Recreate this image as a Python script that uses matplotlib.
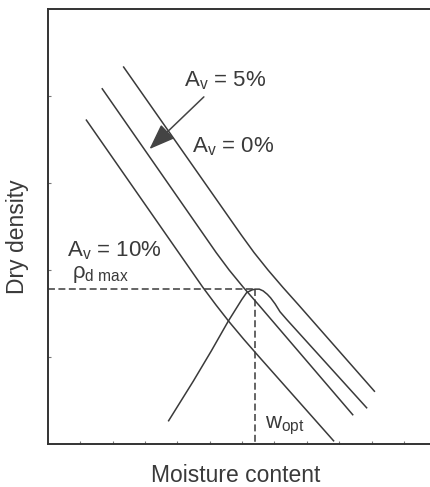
import matplotlib
matplotlib.use("Agg")
import matplotlib.pyplot as plt

plt.rcParams['font.family'] = ['Liberation Sans', 'DejaVu Sans']
plt.rcParams['mathtext.fontset'] = 'custom'
plt.rcParams['mathtext.rm'] = 'Liberation Sans'
plt.rcParams['mathtext.it'] = 'Liberation Sans:italic'
plt.rcParams['mathtext.default'] = 'regular'
plt.rcParams['lines.scale_dashes'] = False

# air-voids lines (moisture content, dry density) in tick units
av0_w = [2.33, 5.98, 6.37, 6.80, 7.26, 7.74, 10.10]
av0_rho = [4.34, 2.40, 2.20, 2.00, 1.80, 1.60, 0.60]
av5_w = [1.67, 5.20, 5.60, 6.04, 6.51, 9.43]
av5_rho = [4.09, 2.20, 2.00, 1.80, 1.60, 0.33]
av10_w = [1.18, 4.79, 5.19, 5.61, 6.06, 6.53, 8.84]
av10_rho = [3.73, 1.80, 1.60, 1.40, 1.20, 1.00, 0.03]

# compaction curve
comp_w = [3.72, 4.49, 5.05, 5.57, 5.99, 6.14, 6.30, 6.40, 6.53, 6.65, 6.78,
          6.88, 7.02, 7.17, 7.38, 9.86]
comp_rho = [0.26, 0.72, 1.07, 1.41, 1.66, 1.74, 1.77, 1.78, 1.78, 1.76, 1.72,
            1.68, 1.61, 1.52, 1.43, 0.41]

w_opt = 6.40
rho_max = 1.78

ink = '#3a3a3a'

fig = plt.figure(figsize=(4.31, 4.87), dpi=100)
ax = fig.add_axes([0.1107, 0.0883, 0.902, 0.8932])
ax.set_xlim(0, 12)
ax.set_ylim(0, 5)

for side in ['left', 'top', 'bottom']:
    ax.spines[side].set_linewidth(1.4)
    ax.spines[side].set_color('#333333')
ax.spines['right'].set_visible(False)

ax.set_xticks(range(1, 12))
ax.set_yticks(range(1, 5))
ax.tick_params(direction='in', length=2.5, width=0.8, color='#777777',
               labelbottom=False, labelleft=False)

for xs, ys in [(av0_w, av0_rho), (av5_w, av5_rho), (av10_w, av10_rho), (comp_w, comp_rho)]:
    ax.plot(xs, ys, color=ink, lw=1.1, solid_capstyle='butt', solid_joinstyle='round')

ax.plot([0, w_opt], [rho_max, rho_max], color=ink, lw=1.1, ls=(0, (5, 2.5)))
ax.plot([w_opt, w_opt], [rho_max, 0], color=ink, lw=1.1, ls=(0, (5, 2.5)))

ax.annotate('', xy=(3.14, 3.39), xytext=(4.82, 3.99),
            arrowprops=dict(arrowstyle='-|>,head_length=0.8,head_width=0.3',
                            mutation_scale=20, color='#444444', lw=1.1,
                            shrinkA=0, shrinkB=0))

fs = 16
ax.text(4.21, 4.115, 'A$_{v}$ = 5%', fontsize=fs, color=ink, va='baseline')
ax.text(4.44, 3.348, 'A$_{v}$ = 0%', fontsize=fs, color=ink, va='baseline')
ax.text(0.59, 2.153, 'A$_{v}$ = 10%', fontsize=fs, color=ink, va='baseline')
ax.text(0.74, 1.908, 'ρ$_{d\\ max}$', fontsize=fs, color=ink, va='baseline')
ax.text(6.71, 0.180, 'w$_{opt}$', fontsize=fs, color=ink, va='baseline')

fig.text(235.8 / 431, (487 - 481.7) / 487, 'Moisture content', fontsize=16.5,
         color=ink, ha='center', va='baseline')
fig.text(29 / 431, 0.514, 'Dry density', fontsize=16.5, color=ink,
         rotation=90, ha='right', va='center')

fig.savefig('out.png', dpi=100)
